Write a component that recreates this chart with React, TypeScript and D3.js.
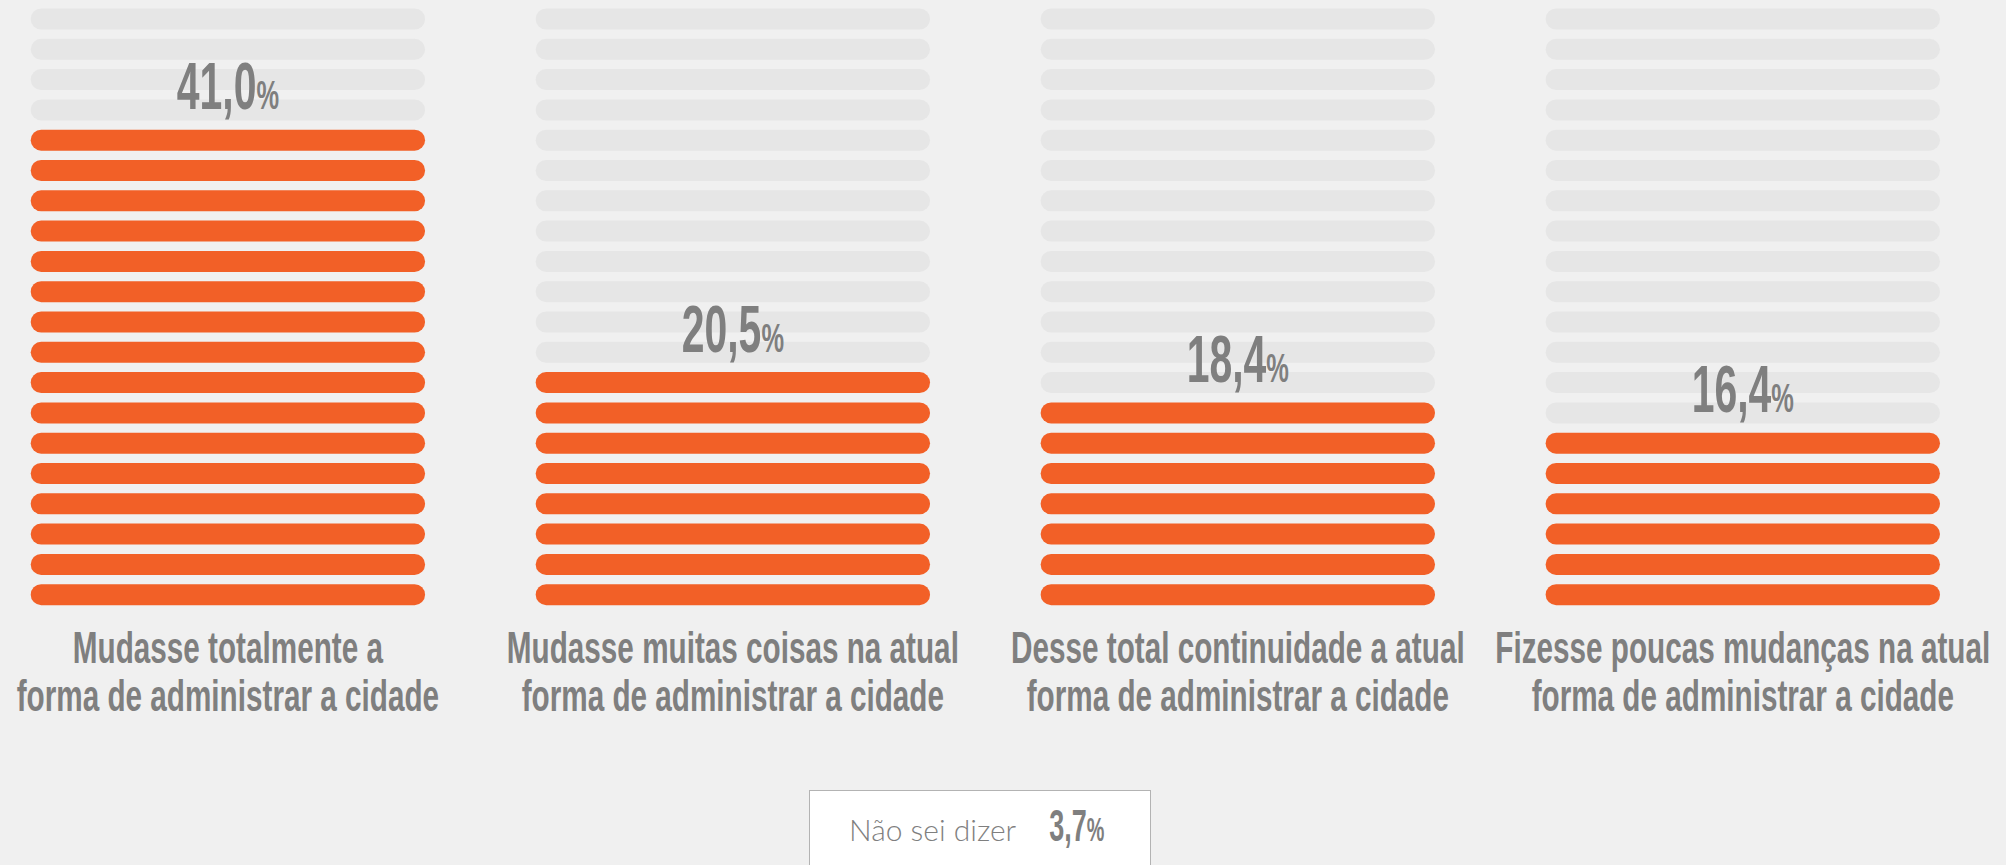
import React from "react";
import { range, scaleBand, scaleLinear } from "d3";

// survey answers
const categories = ["mudasse_total", "mudasse_muitas", "continuidade", "poucas_mudancas"];
const values = [41.0, 20.5, 18.4, 16.4];
const valueLabels = ["41,0", "20,5", "18,4", "16,4"];
const labelLines = [
  ["Mudasse totalmente a", "forma de administrar a cidade"],
  ["Mudasse muitas coisas na atual", "forma de administrar a cidade"],
  ["Desse total continuidade a atual", "forma de administrar a cidade"],
  ["Fizesse poucas mudanças na atual", "forma de administrar a cidade"],
];
const otherLabel = "Não sei dizer";
const otherValue = "3,7";

const SEGMENTS = 20;
const MAX_PCT = 50;

const App = () => {
  const width = 2006;
  const height = 865;

  const orange = "#f26027";
  const track = "#e6e6e6";
  const textGray = "#7f7f7f";
  const condensed = "'Liberation Sans', Arial, sans-serif";
  const sx = 0.62; // squeeze to mimic the condensed face

  const xScale = scaleBand<string>()
    .domain(categories)
    .range([30.7, 1940])
    .paddingInner(0.219)
    .paddingOuter(0);

  const yScale = scaleBand<number>()
    .domain(range(SEGMENTS))
    .range([8.5, 605.2])
    .paddingInner(0.307)
    .paddingOuter(0);

  const segScale = scaleLinear().domain([0, MAX_PCT]).range([0, SEGMENTS]);

  const bw = xScale.bandwidth();
  const bh = yScale.bandwidth();

  return (
    <svg
      width={width}
      height={height}
      style={{ position: "absolute", left: 0, top: 0, display: "block" }}
    >
      <rect x={0} y={0} width={width} height={height} fill="#f0f0f0" />
      {categories.map((c, i) => {
        const x0 = xScale(c) as number;
        const cx = x0 + bw / 2;
        const filled = Math.floor(segScale(values[i]));
        const topY = yScale(SEGMENTS - filled) as number;
        return (
          <g key={c}>
            {range(SEGMENTS).map((s) => (
              <rect
                key={s}
                x={x0}
                y={yScale(s)}
                width={bw}
                height={bh}
                rx={bh / 2}
                fill={s >= SEGMENTS - filled ? orange : track}
              />
            ))}
            <g transform={`translate(${cx},${topY - 20.5}) scale(${sx},1)`}>
              <text
                textAnchor="middle"
                fontFamily={condensed}
                fontWeight="bold"
                fill={textGray}
              >
                <tspan fontSize={66}>{valueLabels[i]}</tspan>
                <tspan fontSize={41}>%</tspan>
              </text>
            </g>
            {labelLines[i].map((line, j) => (
              <g key={j} transform={`translate(${cx},${663.3 + j * 47.5}) scale(0.675,1)`}>
                <text
                  textAnchor="middle"
                  fontFamily={condensed}
                  fontWeight="bold"
                  fontSize={44}
                  fill={textGray}
                >
                  {line}
                </text>
              </g>
            ))}
          </g>
        );
      })}

      {/* "Não sei dizer" box */}
      <rect x={809.5} y={790.5} width={341} height={100} fill="#ffffff" stroke="#b3b3b3" strokeWidth={1} />
      <text
        x={849}
        y={840.7}
        fontFamily="Lato, 'Open Sans', sans-serif"
        fontWeight={300}
        fontSize={30}
        fill={textGray}
      >
        {otherLabel}
      </text>
      <g transform={`translate(1049.3,840.7) scale(0.6,1)`}>
        <text fontFamily={condensed} fontWeight="bold" fill={textGray}>
          <tspan fontSize={45}>{otherValue}</tspan>
          <tspan fontSize={33}>%</tspan>
        </text>
      </g>
    </svg>
  );
};

export default App;
